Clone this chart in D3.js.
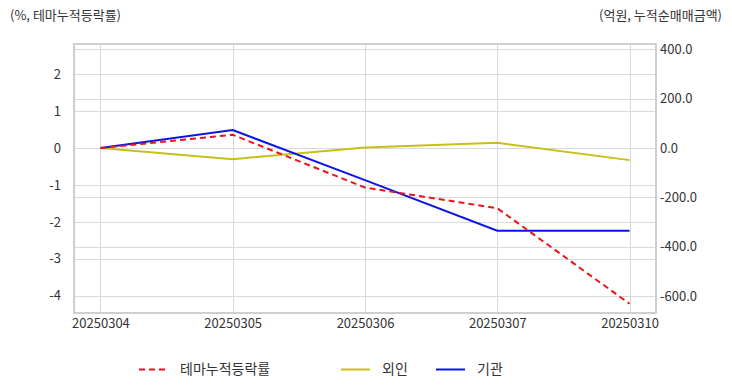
<!DOCTYPE html>
<html><head><meta charset="utf-8">
<script src="https://cdn.jsdelivr.net/npm/d3@7"></script>
<style>body{margin:0;background:#fff}svg{display:block}text{font-family:"Noto Sans CJK KR","Noto Sans",sans-serif}</style>
</head><body><svg id="c" width="732" height="392"></svg>
<script>
const categories = ["20250304","20250305","20250306","20250307","20250310"];
const themeRate = [0, 0.36, -1.07, -1.63, -4.22];
const foreign = [0, -45, 2, 21, -49];
const institution = [0, 73, -130, -335, -335];
const leftTicks = [2,1,0,-1,-2,-3,-4];
const rightTicks = [400,200,0,-200,-400,-600];
const seriesNames = ["테마누적등락률","외인","기관"];
const colors = ["#e8141b","#c8c018","#0a14e6"];

const svg = d3.select("#c");
const L=74, R=656, T=44, B=313;
const x = d3.scalePoint().domain(categories).range([L,R]).padding(0.2);
const yL = d3.scaleLinear().domain([-4.47,2.82]).range([B,T]);
const yR = d3.scaleLinear().domain([-669,422]).range([B,T]);
const grid="#d9d9d9", txt="#333";
const hy = f => d => f(d).replace("\u2212","-");

const g = svg.append("g");
g.selectAll(".gl").data(leftTicks).join("line").attr("x1",L).attr("x2",R)
 .attr("y1",d=>Math.round(yL(d))+0.5).attr("y2",d=>Math.round(yL(d))+0.5).attr("stroke",grid);
g.selectAll(".gr").data(rightTicks).join("line").attr("x1",L).attr("x2",R)
 .attr("y1",d=>Math.round(yR(d))+0.5).attr("y2",d=>Math.round(yR(d))+0.5).attr("stroke",grid);
g.selectAll(".gx").data(categories).join("line").attr("y1",T).attr("y2",B)
 .attr("x1",d=>Math.round(x(d))+0.5).attr("x2",d=>Math.round(x(d))+0.5).attr("stroke",grid);
g.append("rect").attr("x",L).attr("y",T).attr("width",R-L).attr("height",B-T)
 .attr("fill","none").attr("stroke","#cfcfcf").attr("stroke-width",2);

const ax = d3.axisBottom(x).tickSize(0).tickPadding(6);
const axG = svg.append("g").attr("transform",`translate(0,${B})`).call(ax);
const axL = svg.append("g").attr("transform",`translate(${L},0)`).call(d3.axisLeft(yL).tickValues(leftTicks).tickSize(0).tickPadding(5).tickFormat(hy(d3.format("d"))));
const axR = svg.append("g").attr("transform",`translate(${R},0)`).call(d3.axisRight(yR).tickValues(rightTicks).tickSize(0).tickPadding(4).tickFormat(hy(d3.format(".1f"))));
[axG,axL,axR].forEach(a=>{a.select(".domain").remove();a.selectAll("text").attr("fill",txt).style("font-size","13px").style("font-family",'"Noto Sans CJK KR","Noto Sans",sans-serif');});
axL.selectAll("text").attr("dx",-8);

const lineL = d3.line().x((d,i)=>x(categories[i])).y(d=>yL(d));
const lineR = d3.line().x((d,i)=>x(categories[i])).y(d=>yR(d));
svg.append("path").attr("d",lineR(foreign)).attr("fill","none").attr("stroke",colors[1]).attr("stroke-width",2);
svg.append("path").attr("d",lineR(institution)).attr("fill","none").attr("stroke",colors[2]).attr("stroke-width",2);
svg.append("path").attr("d",lineL(themeRate)).attr("fill","none").attr("stroke",colors[0]).attr("stroke-width",2).attr("stroke-dasharray","6,4");

svg.append("text").attr("x",10).attr("y",20).attr("fill",txt).style("font-size","13px").text("(%, 테마누적등락률)");
svg.append("text").attr("x",722).attr("y",20).attr("text-anchor","end").attr("fill",txt).style("font-size","13px").text("(억원, 누적순매매금액)");

const legX=[139,341,436];
seriesNames.forEach((n,i)=>{
  const lg = svg.append("g").attr("transform",`translate(${legX[i]},369)`);
  lg.append("line").attr("x1",0).attr("x2",29).attr("y1",0.5).attr("y2",0.5).attr("stroke",colors[i]).attr("stroke-width",2)
    .attr("stroke-dasharray",i===0?"6,4":null);
  lg.append("text").attr("x",41).attr("y",5).attr("fill",txt).style("font-size","14px").text(n);
});
</script></body></html>
